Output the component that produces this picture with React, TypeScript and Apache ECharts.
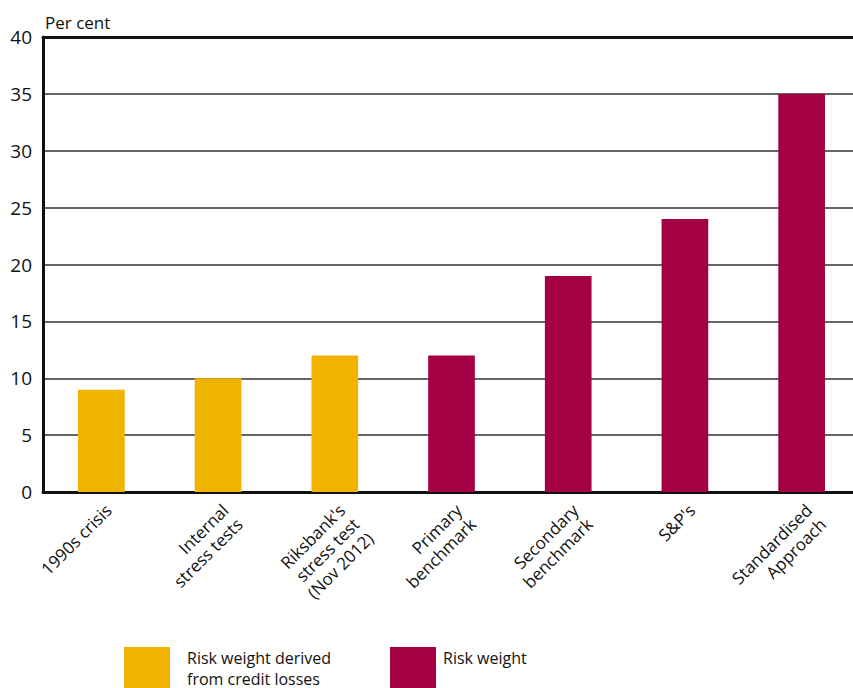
import React, { useEffect, useRef } from "react";
import * as echarts from "echarts";

const categories = [
  "1990s crisis",
  "Internal\nstress tests",
  "Riksbank's\nstress test\n(Nov 2012)",
  "Primary\nbenchmark",
  "Secondary\nbenchmark",
  "S&P's",
  "Standardised\nApproach",
];
const creditLossValues = [9, 10, 12, "-", "-", "-", "-"];
const riskWeightValues = ["-", "-", "-", 12, 19, 24, 35];
const seriesNames = ["Risk weight derived\nfrom credit losses", "Risk weight"];
const colors = ["#F0B400", "#A50044"];

const FONT = "'Open Sans', 'DejaVu Sans', sans-serif";

export default function App() {
  const ref = useRef<HTMLDivElement>(null);
  useEffect(() => {
    const chart = echarts.init(ref.current!, null, { renderer: "svg" });
    chart.setOption({
      animation: false,
      textStyle: { fontFamily: FONT, color: "#111" },
      grid: { left: 43, right: -7, top: 37, bottom: 196, containLabel: false, outerBoundsMode: "none" },
      legend: [
        {
          data: [seriesNames[0]],
          left: 124,
          top: 647,
          padding: 0,
          itemWidth: 46,
          itemHeight: 42,
          icon: "rect",
          textStyle: { fontSize: 16, fontFamily: FONT, color: "#111", lineHeight: 21, padding: [0, 0, 0, 12] },
          selectedMode: false,
        },
        {
          data: [seriesNames[1]],
          left: 390,
          top: 647,
          padding: 0,
          itemWidth: 46,
          itemHeight: 42,
          icon: "rect",
          formatter: (name: string) => name + "\n ",
          textStyle: { fontSize: 16, fontFamily: FONT, color: "#111", lineHeight: 21, padding: [0, 0, 0, 2] },
          selectedMode: false,
        },
      ],
      xAxis: [
        {
          type: "category",
          data: categories,
          axisLine: { lineStyle: { color: "#111", width: 3 } },
          axisTick: { show: false },
          axisLabel: {
            rotate: 45,
            interval: 0,
            fontSize: 17,
            fontFamily: FONT,
            color: "#111",
            lineHeight: 20,
            margin: 8,
            align: "right",
            verticalAlign: "top",
          },
        },
        {
          type: "category",
          data: categories,
          position: "top",
          axisLine: { lineStyle: { color: "#111", width: 3 } },
          axisTick: { show: false },
          axisLabel: { show: false },
        },
      ],
      yAxis: {
        type: "value",
        min: 0,
        max: 40,
        interval: 5,
        name: "Per cent",
        nameLocation: "end",
        nameGap: 6,
        nameTextStyle: { align: "left", fontSize: 17, fontFamily: FONT, color: "#111", padding: [0, 0, 0, 2] },
        axisLine: { show: true, lineStyle: { color: "#111", width: 3 } },
        axisTick: { show: false },
        axisLabel: { fontSize: 19, fontFamily: FONT, color: "#111", margin: 11 },
        splitLine: { lineStyle: { color: "#333", width: 1.5 } },
      },
      series: [
        {
          name: seriesNames[0],
          type: "bar",
          data: creditLossValues,
          barWidth: "40%",
          barGap: "-100%",
          itemStyle: { color: colors[0] },
        },
        {
          name: seriesNames[1],
          type: "bar",
          data: riskWeightValues,
          barWidth: "40%",
          barGap: "-100%",
          itemStyle: { color: colors[1] },
        },
      ],
    });
    return () => chart.dispose();
  }, []);
  return <div ref={ref} style={{ width: 853, height: 688, position: "absolute", left: 0, top: 0, background: "#fff" }} />;
}
